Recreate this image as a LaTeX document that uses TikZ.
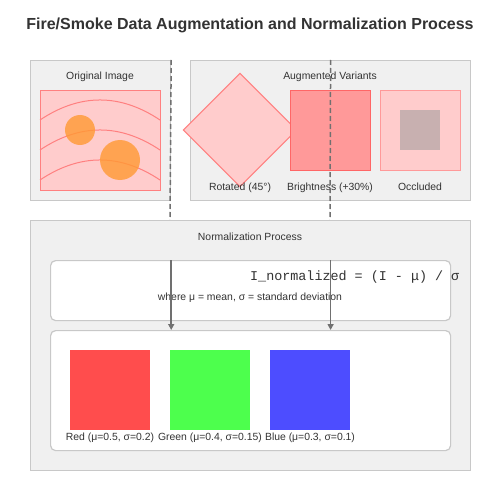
\documentclass[tikz,border=0pt]{standalone}
\usepackage{fontspec}
\setmainfont{Liberation Sans}
\newfontfamily\monofnt{Liberation Mono}
\usetikzlibrary{arrows.meta}
\definecolor{panelfill}{HTML}{F0F0F0}
\definecolor{panelline}{HTML}{C8C8C8}
\definecolor{pinkfill}{HTML}{FFCCCC}
\definecolor{pinkline}{HTML}{FF8080}
\definecolor{brightfill}{HTML}{FF9999}
\definecolor{brightline}{HTML}{FF6666}
\definecolor{fireorange}{HTML}{FF9933}
\definecolor{occgray}{HTML}{C8B0B0}
\definecolor{txt}{HTML}{333333}
\definecolor{flowline}{HTML}{707070}
\definecolor{chred}{HTML}{FF4D4D}
\definecolor{chgreen}{HTML}{4DFF4D}
\definecolor{chblue}{HTML}{4D4DFF}
\begin{document}
\begin{tikzpicture}[x=1pt,y=-1pt,
  panel/.style={draw=panelline,fill=panelfill,line width=1.2pt,rectangle,inner sep=0pt,anchor=north west},
  whitebox/.style={draw=panelline,fill=white,line width=1.2pt,rounded corners=5pt,rectangle,inner sep=0pt,anchor=north west},
  imgrect/.style={rectangle,inner sep=0pt,anchor=north west,line width=1pt},
  lbl/.style={text=txt,font=\fontsize{10.4}{12}\selectfont,inner sep=0pt},
  flowdash/.style={draw=flowline,line width=1.5pt,dash pattern=on 5pt off 3pt},
  flowarrow/.style={draw=flowline,line width=1.5pt,-{Triangle[width=6pt,length=6pt]}},
  swatch/.style={rectangle,inner sep=0pt,anchor=north west,minimum width=80pt,minimum height=80pt}
]
\useasboundingbox (0,0) rectangle (500,500);
\fill[white] (0,0) rectangle (500,500);

% title
\node[text=txt,font=\fontsize{16}{19}\selectfont\bfseries,inner sep=0pt,anchor=base] (title) at (250,30) {Fire/Smoke Data Augmentation and Normalization Process};

% original image panel
\node[panel,minimum width=140pt,minimum height=140pt] (orig) at (30,60) {};
\node[lbl,anchor=base] (origlbl) at (100,80) {Original Image};
\node[imgrect,draw=pinkline,fill=pinkfill,minimum width=120pt,minimum height=100pt] (img) at (40,90) {};
\draw[pinkline,line width=1pt] (40,120) .. controls (80,93.3) and (120,93.3) .. (160,120);
\draw[pinkline,line width=1pt] (40,150) .. controls (80,123.3) and (120,123.3) .. (160,150);
\draw[pinkline,line width=1pt] (40,180) .. controls (80,153.3) and (120,153.3) .. (160,180);
\node[circle,fill=fireorange,fill opacity=0.8,minimum size=30pt,inner sep=0pt] (fire1) at (80,130) {};
\node[circle,fill=fireorange,fill opacity=0.8,minimum size=40pt,inner sep=0pt] (fire2) at (120,160) {};

% augmented variants panel
\node[panel,minimum width=280pt,minimum height=140pt] (aug) at (190,60) {};
\node[lbl,anchor=base] (auglbl) at (330,80) {Augmented Variants};
\node[rectangle,draw=pinkline,fill=pinkfill,line width=1pt,minimum size=80pt,inner sep=0pt,rotate=45] (rot) at (240,130) {};
\node[imgrect,draw=brightline,fill=brightfill,minimum width=80pt,minimum height=80pt] (bright) at (290,90) {};
\node[imgrect,draw=brightfill,fill=pinkfill,minimum width=80pt,minimum height=80pt] (occ) at (380,90) {};
\node[rectangle,inner sep=0pt,anchor=north west,fill=occgray,minimum width=40pt,minimum height=40pt] (occpatch) at (400,110) {};
\node[lbl,anchor=base] (rotlbl) at (240,190) {Rotated (45°)};
\node[lbl,anchor=base] (brightlbl) at (330,190) {Brightness (+30\%)};
\node[lbl,anchor=base] (occlbl) at (420,190) {Occluded};

% dashed links from the panels
\coordinate (d1) at (170,220);
\coordinate (d2) at (330,220);
\draw[flowdash] (orig.north east) -- (d1);
\draw[flowdash] (aug.north) -- (d2);

% normalization panel
\node[panel,minimum width=440pt,minimum height=250pt] (norm) at (30,220) {};
\node[lbl,anchor=base] (normlbl) at (250,240) {Normalization Process};
\node[whitebox,minimum width=400pt,minimum height=60pt] (formula) at (50,260) {};
\node[text=txt,font=\monofnt\fontsize{13.4}{16}\selectfont,inner sep=0pt,anchor=base west] (eq) at (250,280) {I\_normalized = (I - μ) / σ};
\node[lbl,anchor=base] (where) at (250,300) {where μ = mean, σ = standard deviation};
\node[whitebox,minimum width=400pt,minimum height=120pt] (chan) at (50,330) {};

% channel swatches
\node[swatch,fill=chred] (red) at (70,350) {};
\node[swatch,fill=chgreen] (green) at (170,350) {};
\node[swatch,fill=chblue] (blue) at (270,350) {};
\node[lbl,anchor=base] (redlbl) at (110,440) {Red (μ=0.5, σ=0.2)};
\node[lbl,anchor=base] (greenlbl) at (210,440) {Green (μ=0.4, σ=0.15)};
\node[lbl,anchor=base] (bluelbl) at (310,440) {Blue (μ=0.3, σ=0.1)};

% arrows into the channel box
\draw[flowarrow] (formula.north -| orig.east) -- (chan.north -| orig.east);
\draw[flowarrow] (formula.north -| aug.north) -- (chan.north -| aug.north);
\end{tikzpicture}
\end{document}
